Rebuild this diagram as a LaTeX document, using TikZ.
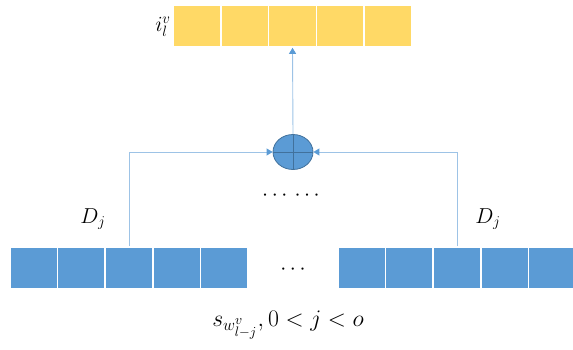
\documentclass[tikz,border=0pt]{standalone}
\usetikzlibrary{arrows.meta,shapes.geometric}
\definecolor{ylw}{HTML}{FFD966}
\definecolor{blu}{HTML}{5B9BD5}
\definecolor{lblu}{HTML}{9DC3E6}
\definecolor{dblu}{HTML}{41719C}
\tikzset{
  cell/.style={rectangle, draw=white, line width=1.6pt, minimum width=47.8pt, minimum height=42pt, inner sep=0pt},
  ycell/.style={cell, fill=ylw},
  bcell/.style={cell, fill=blu},
  conn/.style={draw=lblu, line width=0.9pt, -{Triangle[width=7pt,length=6pt,fill=blu,color=blu]}},
  lbl/.style={font=\LARGE, inner sep=0pt, scale=1.25}
}
\begin{document}
\begin{tikzpicture}[x=1pt,y=-1pt]
\useasboundingbox (0,0) rectangle (573,350);
\foreach \i in {1,...,5} {
  \node[ycell] (t\i) at ({173+47.8*(\i-0.5)},26) {};
  \node[bcell] (l\i) at ({10+47.6*(\i-0.5)},268) {};
  \node[bcell] (r\i) at ({338+47.6*(\i-0.5)},268) {};
}
\node[ellipse, draw=dblu, fill=blu, line width=0.8pt, minimum width=40pt, minimum height=35pt, inner sep=0pt] (c) at (293,152) {};
\draw[dblu, line width=0.8pt] (c.north) -- (c.south) (c.west) -- (c.east);
\draw[conn] (l3.north) |- (c.west);
\draw[conn] (r3.north) |- (c.east);
\draw[conn] (c.north) -- (t3.south);
\node[lbl, anchor=east] (il) at (171,27) {$i_l^v$};
\node[lbl] (dl) at (93,219) {$D_j$};
\node[lbl] (dr) at (488,219) {$D_j$};
\node[lbl] (dd1) at (291,196) {$\cdots\,\cdots$};
\node[lbl] (dd2) at (293,270) {$\cdots$};
\node[lbl, scale=1.1] (bot) at (288,325) {$s_{w^v_{l-j}},0<j<o$};
\end{tikzpicture}
\end{document}
